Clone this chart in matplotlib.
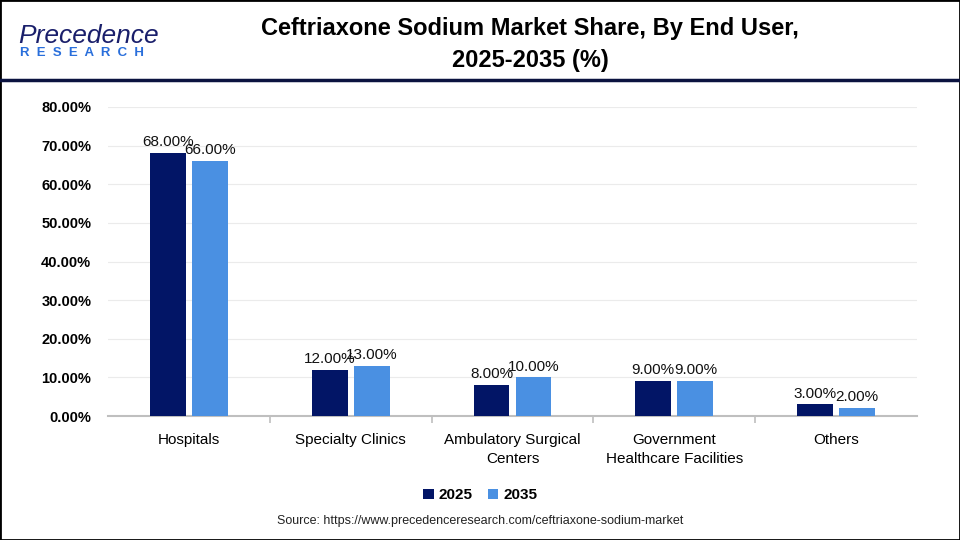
import numpy as np
import matplotlib
matplotlib.use("Agg")
import matplotlib.pyplot as plt
from matplotlib.patches import Rectangle
from matplotlib.lines import Line2D

plt.rcParams['font.family'] = ['Liberation Sans', 'DejaVu Sans']

categories = ["Hospitals", "Specialty Clinics", "Ambulatory Surgical\nCenters",
              "Government\nHealthcare Facilities", "Others"]
share_2025 = [68.0, 12.0, 8.0, 9.0, 3.0]
share_2035 = [66.0, 13.0, 10.0, 9.0, 2.0]
years = ["2025", "2035"]
yticks = [0, 10, 20, 30, 40, 50, 60, 70, 80]

col_2025 = "#021566"
col_2035 = "#4a90e2"

fig = plt.figure(figsize=(9.6, 5.4), dpi=100)
ax = fig.add_axes([108 / 960, 124 / 540, 809 / 960, 309 / 540])

x = np.arange(len(categories))
w = 0.222
off = 0.13
b1 = ax.bar(x - off, share_2025, w, color=col_2025, label=years[0], zorder=3)
b2 = ax.bar(x + off, share_2035, w, color=col_2035, label=years[1], zorder=3)

for bars, vals in ((b1, share_2025), (b2, share_2035)):
    for r, v in zip(bars, vals):
        ax.text(r.get_x() + r.get_width() / 2, v + 1.0, f"{v:.2f}%",
                ha="center", va="bottom", fontsize=11, color="#111111")

ax.set_xlim(-0.5, len(categories) - 0.5)
ax.set_ylim(0, 80)
ax.set_yticks(yticks)
ax.set_yticklabels([f"{t:.2f}%" for t in yticks], fontsize=10.5, fontweight="bold")
ax.grid(axis="y", color="#ebebeb", linewidth=0.8, zorder=0)
ax.set_xticks(x)
ax.set_xticklabels(categories, fontsize=11, linespacing=1.5)
ax.tick_params(axis="x", length=0, pad=12)
ax.tick_params(axis="y", length=0, pad=12)
ax.set_xticks(np.arange(0.5, len(categories) - 1, 1), minor=True)
ax.tick_params(axis="x", which="minor", length=5, color="#bfbfbf", width=1.2)
for s in ["top", "right", "left"]:
    ax.spines[s].set_visible(False)
ax.spines["bottom"].set_color("#bfbfbf")
ax.spines["bottom"].set_linewidth(1.5)

ax.legend(loc="upper center", bbox_to_anchor=(0.46, -0.19), ncol=2, frameon=False,
          handlelength=0.7, handleheight=0.7, handletextpad=0.3, columnspacing=1.0,
          prop={"size": 11, "weight": "bold"})

fig.text(530 / 960, 1 - 28 / 540, "Ceftriaxone Sodium Market Share, By End User,",
         ha="center", va="center", fontsize=17, fontweight="bold")
fig.text(530 / 960, 1 - 60 / 540, "2025-2035 (%)",
         ha="center", va="center", fontsize=17, fontweight="bold")

fig.text(18 / 960, 1 - 36 / 540, "Precedence", ha="left", va="center",
         fontsize=19, color="#1a1f6b", style="italic")
fig.text(20 / 960, 1 - 53 / 540, "R  E  S  E  A  R  C  H", ha="left", va="center",
         fontsize=9.5, fontweight="bold", color="#2a6fdb")

fig.add_artist(Line2D([0, 1], [1 - 80 / 540, 1 - 80 / 540], color="#0b1340",
                      linewidth=2.5, transform=fig.transFigure))
fig.add_artist(Rectangle((0, 0), 1, 1, transform=fig.transFigure, fill=False,
                         edgecolor="black", linewidth=2))

fig.text(480 / 960, 1 - 521 / 540,
         "Source: https://www.precedenceresearch.com/ceftriaxone-sodium-market",
         ha="center", va="center", fontsize=9, color="#222222")

fig.savefig("out.png", dpi=100)
